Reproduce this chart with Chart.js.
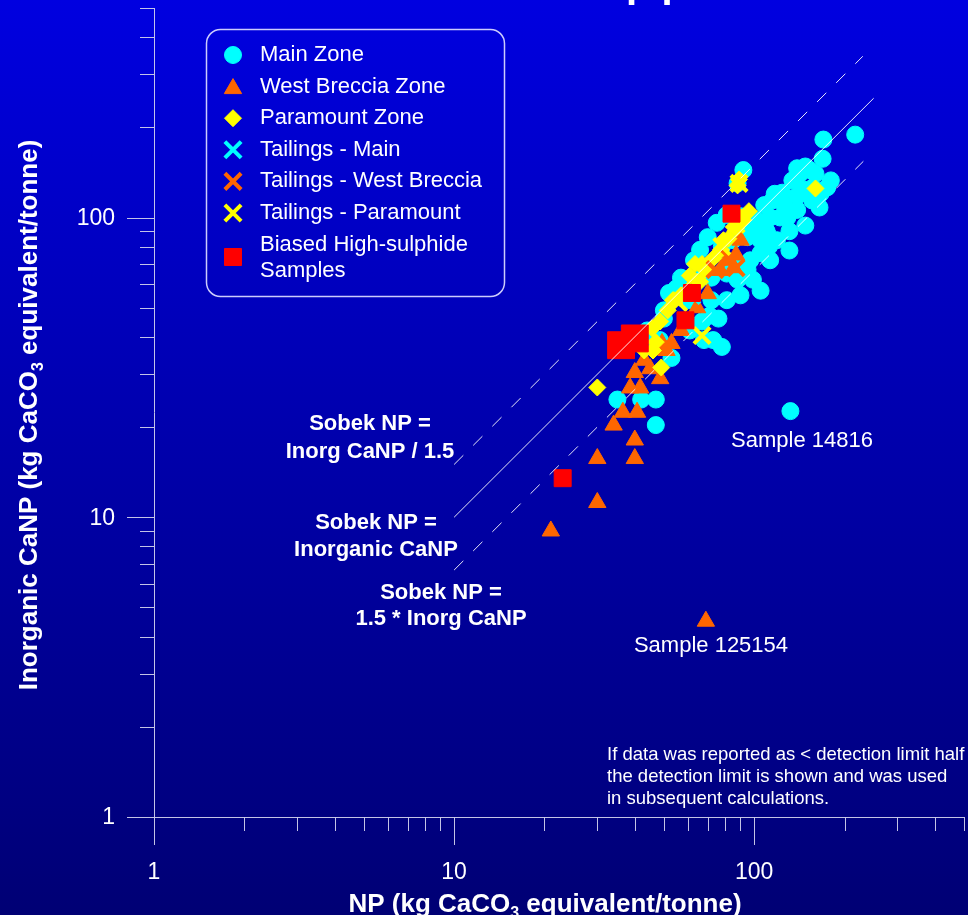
<!DOCTYPE html>
<html>
<head>
<meta charset="utf-8">
<script src="https://cdn.jsdelivr.net/npm/chart.js@4.4.1/dist/chart.umd.min.js"></script>
<style>
  html, body { margin: 0; padding: 0; background: #000090; }
</style>
</head>
<body>
<canvas id="chart" width="968" height="915"></canvas>
<script>
const FONT = "'Liberation Sans', Arial, Helvetica, sans-serif";
const AXIS = 'rgba(205, 205, 235, 0.95)';

// [NP, inorganic CaNP] in kg CaCO3 equivalent/tonne
const mainZone = [
  [92, 144], [88, 130], [81, 102], [70, 86], [75, 96], [78, 80], [85, 84], [95, 86],
  [105, 84], [110, 90], [115, 114], [124, 121], [134, 133], [142, 140], [153, 144],
  [157, 126], [166, 120], [165, 108], [122, 100], [129, 100], [139, 106], [113, 100],
  [102, 88], [105, 76], [97, 72], [95, 67], [88, 68], [81, 65], [99, 62], [88, 62],
  [72, 63], [57, 63], [52, 56], [55, 58], [61, 53], [50, 49], [72, 53], [81, 53], [71, 47],
  [217, 189], [170, 182], [169, 157], [167, 121], [132, 22.6], [35, 24.7], [42, 24.7],
  [47, 24.7], [47, 20.3], [53, 34], [78, 37], [73, 39], [44, 42], [48.5, 39], [61, 42],
  [67, 45], [68, 39], [50, 46], [45, 37.5], [131, 90], [148, 94], [156, 114], [139, 118],
  [119, 84], [108, 110], [102, 98], [90, 101], [93, 95], [131, 77.6], [113, 72],
  [180, 133], [175, 126], [148, 148], [139, 146], [117, 120], [66, 78], [63, 72],
  [68, 64], [76, 46], [105, 57], [90, 55], [126, 110], [146, 124], [160, 140], [112, 80]
];
const westBreccia = [
  [21, 9], [30, 11.2], [69, 4.5], [30, 15.7], [40, 15.7], [40, 18.1], [34, 20.3],
  [36.5, 22.4], [40.7, 22.4], [38.6, 27], [41.7, 27], [40, 30.4], [45, 31.3], [48.6, 29],
  [43, 33.4], [53, 38], [49.3, 38], [51, 36], [57, 42], [81, 72], [85.5, 68], [77, 66.6],
  [90, 84], [70, 55.7], [64.5, 50], [87, 75]
];
const paramount = [
  [30, 27.1], [45.7, 42.7], [47, 38.4], [46, 36], [49, 31.6], [88, 128], [63.5, 70],
  [67, 70], [66, 61], [56.5, 54], [53.6, 53], [160, 125], [79, 84], [85.5, 93],
  [90.5, 100], [89, 134], [48.6, 45], [51.5, 49], [54, 53], [60, 57], [65, 61],
  [68.5, 67], [73, 73], [77.5, 78], [82, 85], [87, 92], [92, 98], [96, 105], [61, 64],
  [57, 55], [43, 36]
];
const tailingsMain = [[110, 95], [62, 55]];
const tailingsWestBreccia = [[74, 67], [87, 68], [83, 73]];
const tailingsParamount = [[67, 40.4], [89, 130], [87, 95], [78, 80], [56, 52]];
const biasedHighSulphide = [[23, 13.5], [36, 37.5], [40, 39.5], [59, 45.4], [62, 56], [84, 103]];
const bigBiased = [1, 2];

// guide lines: Sobek NP = Inorg CaNP / 1.5, = Inorg CaNP, = 1.5 * Inorg CaNP
const lineUpper = [[10, 15], [230, 345]];
const lineOneToOne = [[10, 10], [250, 250]];
const lineLower = [[10, 6.667], [231, 154]];

const labelledTicks = [1, 10, 100];
const AXIS_MIN = 1;
const AXIS_MAX = 500;

const toXY = arr => arr.map(([x, y]) => ({ x, y }));

// 1..9, 10..90, 100..500 for the tick marks
function logTickValues(min, max) {
  const out = [];
  for (let d = min; d <= max; d *= 10) {
    for (let m = 1; m <= 9; m++) {
      const v = m * d;
      if (v <= max + 1e-9) out.push({ v, major: m === 1 });
    }
  }
  return out;
}

const series = [
  { label: 'Main Zone', data: mainZone, color: '#00ffff', style: 'circle', r: 8.5, bw: 1 },
  { label: 'West Breccia Zone', data: westBreccia, color: '#ff6600', style: 'triangle', r: 10, bw: 1 },
  { label: 'Paramount Zone', data: paramount, color: '#ffff00', style: 'rectRot', r: 8.5, bw: 1 },
  { label: 'Tailings - Main', data: tailingsMain, color: '#00ffff', style: 'crossRot', r: 11.5, bw: 4 },
  { label: 'Tailings - West Breccia', data: tailingsWestBreccia, color: '#ff6600', style: 'crossRot', r: 11.5, bw: 4 },
  { label: 'Tailings - Paramount', data: tailingsParamount, color: '#ffff00', style: 'crossRot', r: 11.5, bw: 4 },
  { label: ['Biased High-sulphide', 'Samples'], data: biasedHighSulphide, color: '#ff0000', style: 'rect', r: 12, bw: 1 }
];

const datasets = series.map((s, i) => ({
  label: Array.isArray(s.label) ? s.label.join(' ') : s.label,
  data: toXY(s.data),
  pointStyle: s.style,
  pointRadius: s.style === 'rect' ? (c => bigBiased.includes(c.dataIndex) ? 19 : s.r) : s.r,
  backgroundColor: s.color,
  borderColor: s.color,
  borderWidth: s.bw,
  order: series.length - i + 1
}));

function guide(points, dash) {
  return {
    type: 'line',
    data: toXY(points),
    borderColor: 'rgba(255, 255, 255, 0.9)',
    borderWidth: 1,
    borderDash: dash,
    pointRadius: 0,
    fill: false,
    tension: 0,
    order: 0
  };
}
datasets.push(guide(lineUpper, [13, 14]), guide(lineOneToOne, []), guide(lineLower, [13, 14]));

const backgroundPlugin = {
  id: 'background',
  beforeDraw(chart) {
    const { ctx, width, height } = chart;
    const g = ctx.createLinearGradient(0, 0, 0, height);
    g.addColorStop(0, 'rgb(0, 0, 224)');
    g.addColorStop(1, 'rgb(0, 0, 116)');
    ctx.save();
    ctx.fillStyle = g;
    ctx.fillRect(0, 0, width, height);
    ctx.restore();
  }
};

const axesPlugin = {
  id: 'axes',
  beforeDatasetsDraw(chart) {
    const { ctx, chartArea: a, scales: { x, y } } = chart;
    const marks = logTickValues(AXIS_MIN, AXIS_MAX);
    ctx.save();
    ctx.strokeStyle = AXIS;
    ctx.lineWidth = 1;
    ctx.beginPath();
    ctx.moveTo(a.left + 0.5, a.top);
    ctx.lineTo(a.left + 0.5, a.bottom);
    ctx.moveTo(a.left, a.bottom + 0.5);
    ctx.lineTo(a.right, a.bottom + 0.5);
    marks.forEach(t => {
      const px = Math.round(x.getPixelForValue(t.v)) + 0.5;
      ctx.moveTo(px, a.bottom);
      ctx.lineTo(px, a.bottom + (t.major ? 28 : 14));
      const py = Math.round(y.getPixelForValue(t.v)) + 0.5;
      ctx.moveTo(a.left, py);
      ctx.lineTo(a.left - (t.major ? 27 : 14), py);
    });
    ctx.stroke();

    ctx.fillStyle = '#ffffff';
    ctx.font = `23px ${FONT}`;
    ctx.textBaseline = 'middle';
    labelledTicks.forEach(v => {
      ctx.textAlign = 'center';
      ctx.fillText(String(v), x.getPixelForValue(v), 873);
      ctx.textAlign = 'right';
      ctx.fillText(String(v), 115, y.getPixelForValue(v) + 1);
    });
    ctx.restore();
  }
};

function drawSubText(ctx, parts, cx, baseline, size) {
  const main = `bold ${size}px ${FONT}`;
  const small = `bold ${Math.round(size * 0.62)}px ${FONT}`;
  const items = parts.map(p => typeof p === 'string' ? { t: p, sub: false } : { t: p.s, sub: true });
  let total = 0;
  items.forEach(p => {
    ctx.font = p.sub ? small : main;
    total += ctx.measureText(p.t).width;
  });
  let x = cx - total / 2;
  ctx.textAlign = 'left';
  ctx.textBaseline = 'alphabetic';
  items.forEach(p => {
    ctx.font = p.sub ? small : main;
    ctx.fillText(p.t, x, p.sub ? baseline + size * 0.22 : baseline);
    x += ctx.measureText(p.t).width;
  });
}

const textPlugin = {
  id: 'texts',
  afterDraw(chart) {
    const { ctx } = chart;
    const helpers = Chart.helpers;
    ctx.save();
    ctx.fillStyle = '#ffffff';

    // cut-off title descenders
    ctx.font = `bold 40px ${FONT}`;
    ctx.textAlign = 'left';
    ctx.textBaseline = 'alphabetic';
    ctx.fillText('p p', 626, -3);

    // legend
    ctx.strokeStyle = 'rgba(215, 215, 255, 0.95)';
    ctx.lineWidth = 1.5;
    ctx.beginPath();
    ctx.roundRect(206.5, 29.5, 298, 267, 14);
    ctx.stroke();
    ctx.font = `22px ${FONT}`;
    ctx.textBaseline = 'middle';
    ctx.textAlign = 'left';
    series.forEach((s, i) => {
      const rowY = i < 6 ? 55 + i * 31.6 : 257;
      ctx.fillStyle = s.color;
      ctx.strokeStyle = s.color;
      ctx.lineWidth = s.bw;
      const dy = s.style === 'triangle' ? 2 : 0;
      helpers.drawPoint(ctx, { pointStyle: s.style, radius: s.r, rotation: 0, borderWidth: s.bw }, 233, rowY + dy);
      ctx.fillStyle = '#ffffff';
      if (Array.isArray(s.label)) {
        ctx.fillText(s.label[0], 260, 245);
        ctx.fillText(s.label[1], 260, 271);
      } else {
        ctx.fillText(s.label, 260, rowY);
      }
    });

    // guide line labels
    ctx.font = `bold 22px ${FONT}`;
    ctx.textAlign = 'center';
    ctx.textBaseline = 'alphabetic';
    ctx.fillText('Sobek NP =', 370, 430);
    ctx.fillText('Inorg CaNP / 1.5', 370, 458);
    ctx.fillText('Sobek NP =', 376, 529);
    ctx.fillText('Inorganic CaNP', 376, 556);
    ctx.fillText('Sobek NP =', 441, 599);
    ctx.fillText('1.5 * Inorg CaNP', 441, 625);

    // outlier labels
    ctx.font = `22px ${FONT}`;
    ctx.fillText('Sample 14816', 802, 447);
    ctx.fillText('Sample 125154', 711, 652);

    // note
    ctx.font = `18.5px ${FONT}`;
    ctx.textAlign = 'left';
    ctx.fillText('If data was reported as < detection limit half', 607, 760);
    ctx.fillText('the detection limit is shown and was used', 607, 782);
    ctx.fillText('in subsequent calculations.', 607, 804);

    // axis titles
    drawSubText(ctx, ['NP (kg CaCO', { s: '3' }, ' equivalent/tonne)'], 545, 912, 26);
    ctx.translate(37, 415);
    ctx.rotate(-Math.PI / 2);
    drawSubText(ctx, ['Inorganic CaNP (kg CaCO', { s: '3' }, ' equivalent/tonne)'], 0, 0, 26);
    ctx.restore();
  }
};

new Chart(document.getElementById('chart'), {
  type: 'scatter',
  data: { datasets },
  plugins: [backgroundPlugin, axesPlugin, textPlugin],
  options: {
    responsive: false,
    animation: false,
    devicePixelRatio: 1,
    events: [],
    layout: { autoPadding: false, padding: { top: 8, right: 4, left: 0, bottom: 0 } },
    plugins: {
      legend: { display: false },
      tooltip: { enabled: false }
    },
    scales: {
      x: {
        type: 'logarithmic',
        min: AXIS_MIN,
        max: AXIS_MAX,
        grid: { display: false },
        border: { display: false },
        ticks: { display: false },
        afterFit: s => { s.height = 98; }
      },
      y: {
        type: 'logarithmic',
        min: AXIS_MIN,
        max: AXIS_MAX,
        grid: { display: false },
        border: { display: false },
        ticks: { display: false },
        afterFit: s => { s.width = 154; }
      }
    }
  }
});
</script>
</body>
</html>
